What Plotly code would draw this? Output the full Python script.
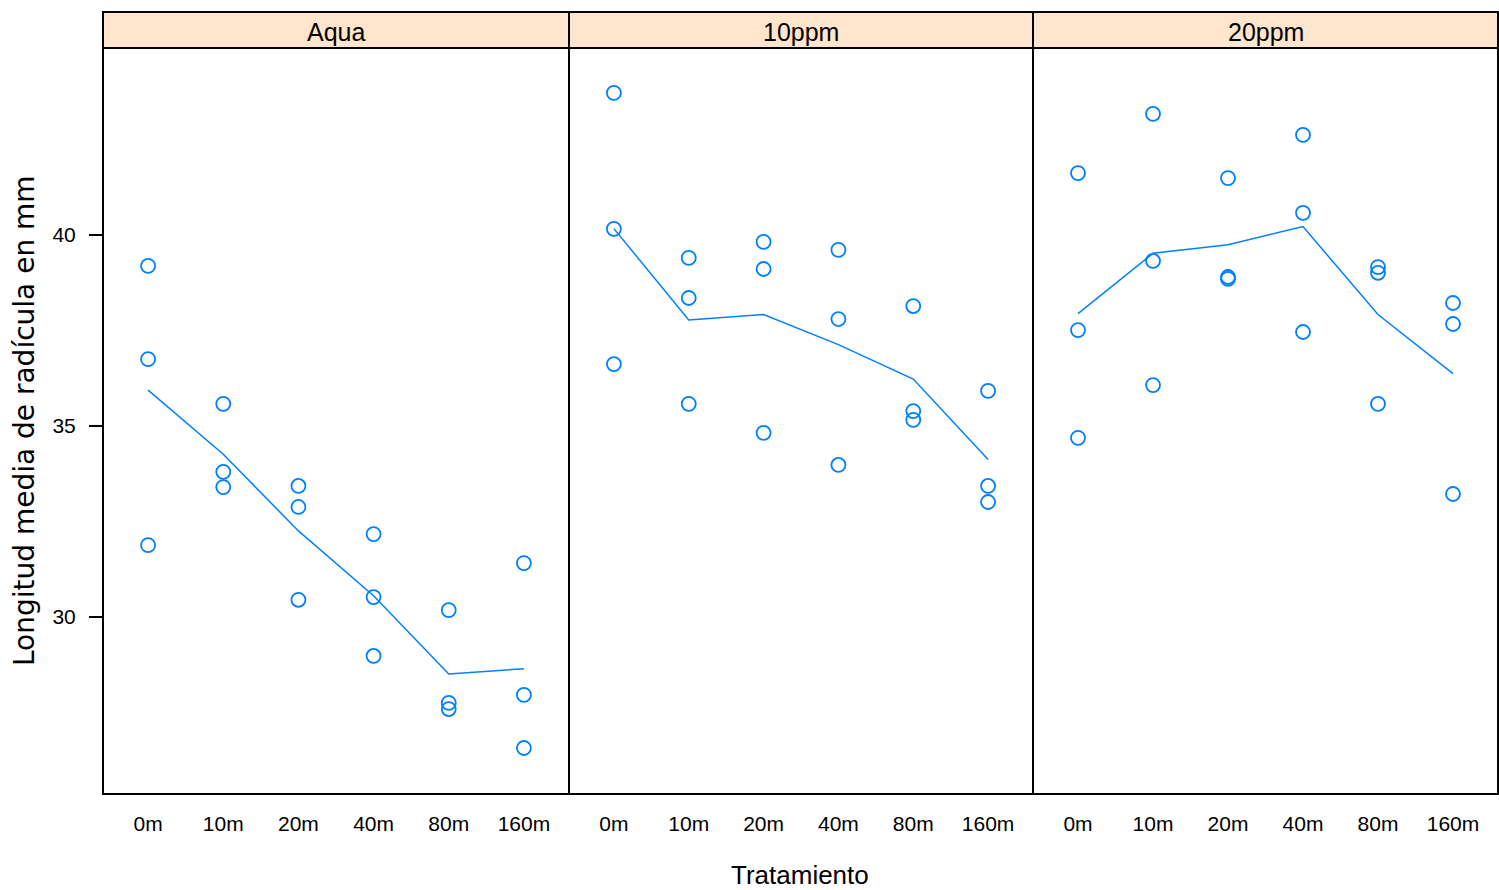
import plotly.graph_objects as go
from plotly.subplots import make_subplots

# Treatment levels (x categories) and concentration panels
tratamientos = ["0m", "10m", "20m", "40m", "80m", "160m"]
paneles = ["Aqua", "10ppm", "20ppm"]

# Three replicate root lengths (mm) per treatment, per panel
aqua = [
    [39.19, 36.75, 31.88],
    [35.58, 33.80, 33.40],
    [33.43, 32.88, 30.45],
    [32.17, 30.52, 28.98],
    [30.18, 27.75, 27.59],
    [31.41, 27.96, 26.57],
]
ppm10 = [
    [43.72, 40.16, 36.62],
    [39.40, 38.35, 35.58],
    [39.82, 39.11, 34.82],
    [39.61, 37.80, 33.98],
    [38.14, 35.39, 35.16],
    [35.92, 33.43, 33.01],
]
ppm20 = [
    [41.62, 37.51, 34.69],
    [43.17, 39.32, 36.07],
    [41.49, 38.90, 38.85],
    [42.62, 40.58, 37.46],
    [39.16, 39.01, 35.58],
    [38.22, 37.67, 33.22],
]
datos = [aqua, ppm10, ppm20]

W, H = 1499, 890
BLUE = "#0080ff"
FONT = "Liberation Sans, Arial, sans-serif"

fig = make_subplots(rows=1, cols=3, shared_yaxes=True, horizontal_spacing=0)

for i, grupo in enumerate(datos):
    xs, ys = [], []
    for t, reps in zip(tratamientos, grupo):
        for v in reps:
            xs.append(t)
            ys.append(v)
    medias = [sum(r) / len(r) for r in grupo]
    fig.add_trace(go.Scatter(
        x=xs, y=ys, mode="markers",
        marker=dict(symbol="circle-open", size=14, color=BLUE,
                    line=dict(width=1.8, color=BLUE)),
        showlegend=False, hoverinfo="x+y"), row=1, col=i + 1)
    fig.add_trace(go.Scatter(
        x=tratamientos, y=medias, mode="lines",
        line=dict(color=BLUE, width=1.5),
        showlegend=False, hoverinfo="x+y"), row=1, col=i + 1)

# panel geometry in pixels
bordes = [103, 569, 1033, 1498]
top_px, bot_px, strip_top = 48, 794, 12
y0 = (H - bot_px) / H
y1 = (H - top_px) / H

for i in range(3):
    ax = "xaxis" if i == 0 else f"xaxis{i + 1}"
    fig.layout[ax].update(
        domain=[bordes[i] / W, bordes[i + 1] / W],
        type="category", categoryorder="array", categoryarray=tratamientos,
        range=[-0.6, 5.6], showgrid=False, zeroline=False, showline=False,
        ticks="", ticklabelstandoff=15,
        tickfont=dict(family=FONT, size=21, color="black"),
    )
    yax = "yaxis" if i == 0 else f"yaxis{i + 1}"
    fig.layout[yax].update(
        domain=[y0, y1], range=[25.366, 44.895],
        showgrid=False, zeroline=False, showline=False,
    )
    # panel frame
    fig.add_shape(type="rect", xref="paper", yref="paper",
                  x0=bordes[i] / W, x1=bordes[i + 1] / W, y0=y0, y1=y1,
                  line=dict(color="black", width=2), layer="above")
    # strip header
    fig.add_shape(type="rect", xref="paper", yref="paper",
                  x0=bordes[i] / W, x1=bordes[i + 1] / W,
                  y0=y1, y1=(H - strip_top) / H,
                  fillcolor="#ffe5cc", line=dict(color="black", width=2),
                  layer="above")
    fig.add_annotation(x=(bordes[i] + bordes[i + 1]) / 2 / W,
                       y=(H - 32) / H, xref="paper", yref="paper",
                       text=paneles[i], showarrow=False,
                       font=dict(family=FONT, size=25, color="black"),
                       xanchor="center", yanchor="middle")

fig.layout.yaxis.update(
    tickvals=[30, 35, 40], ticktext=["30", "35", "40"],
    ticks="outside", ticklen=13, tickwidth=2, tickcolor="black",
    ticklabelstandoff=9,
    tickfont=dict(family=FONT, size=21, color="black"),
)
for yax in ["yaxis2", "yaxis3"]:
    fig.layout[yax].update(showticklabels=False, ticks="")

fig.add_annotation(x=800 / W, y=(H - 875) / H, xref="paper", yref="paper",
                   text="Tratamiento", showarrow=False,
                   font=dict(family=FONT, size=26, color="black"),
                   xanchor="center", yanchor="middle")
fig.add_annotation(x=24 / W, y=(H - 421) / H, xref="paper", yref="paper",
                   text="Longitud media de radícula en mm", showarrow=False,
                   textangle=-90,
                   font=dict(family="DejaVu Sans, sans-serif", size=28, color="black"),
                   xanchor="center", yanchor="middle")

fig.update_layout(width=W, height=H, margin=dict(l=0, r=0, t=0, b=0),
                  paper_bgcolor="white", plot_bgcolor="white")

fig.write_html("out.html")
